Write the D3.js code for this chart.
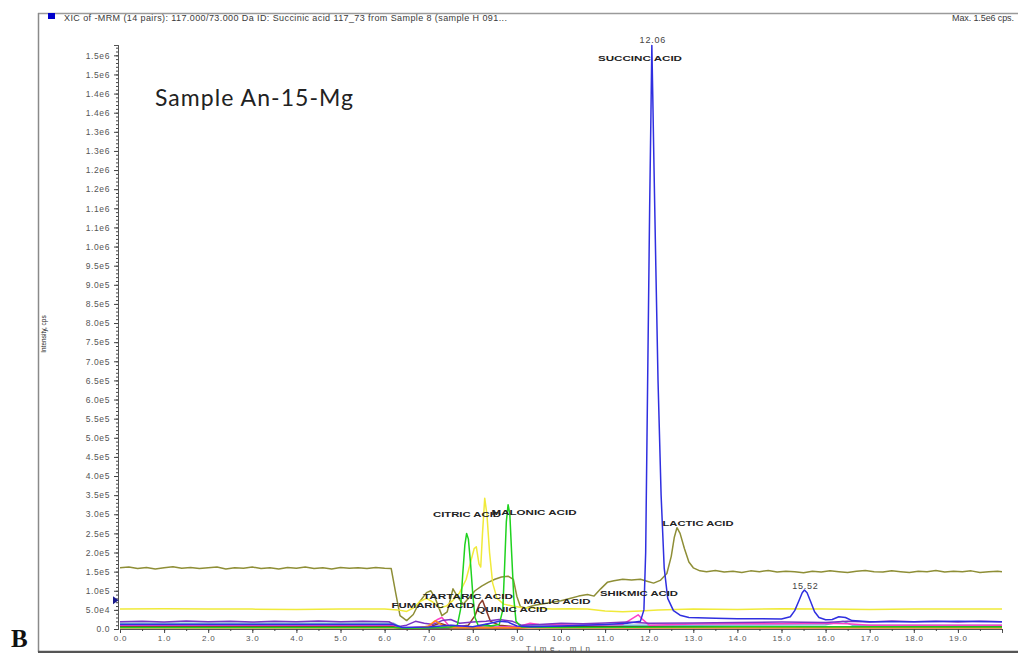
<!DOCTYPE html>
<html>
<head>
<meta charset="utf-8">
<script src="https://cdn.jsdelivr.net/npm/d3@7"></script>
<style>
  body { margin: 0; background: #fff; }
  svg { display: block; }
  text { font-family: "Liberation Sans", Arial, sans-serif; }
</style>
</head>
<body>
<div id="chart"></div>
<script>
// XIC chromatogram, intensity in units of 1e5 cps, time in min

const yTickValues = d3.range(0, 31).map(i => i * 0.5);
const yTickLabels = ["0.0", "5.0e4", "1.0e5", "1.5e5", "2.0e5", "2.5e5", "3.0e5", "3.5e5", "4.0e5", "4.5e5",
  "5.0e5", "5.5e5", "6.0e5", "6.5e5", "7.0e5", "7.5e5", "8.0e5", "8.5e5", "9.0e5", "9.5e5",
  "1.0e6", "1.1e6", "1.1e6", "1.2e6", "1.2e6", "1.3e6", "1.3e6", "1.4e6", "1.4e6", "1.5e6", "1.5e6"];
const xTickValues = d3.range(0, 20);
const xTickLabels = xTickValues.map(v => v.toFixed(1));

// olive trace (lactic acid)
const olive = [
  [0.0, 1.60], [0.2, 1.62], [0.4, 1.58], [0.6, 1.61], [0.8, 1.57], [1.0, 1.60], [1.2, 1.63], [1.4, 1.59],
  [1.6, 1.61], [1.8, 1.58], [2.0, 1.60], [2.2, 1.62], [2.4, 1.57], [2.6, 1.60], [2.8, 1.59], [3.0, 1.62],
  [3.2, 1.58], [3.4, 1.60], [3.6, 1.57], [3.8, 1.61], [4.0, 1.59], [4.2, 1.62], [4.4, 1.58], [4.6, 1.60],
  [4.8, 1.57], [5.0, 1.61], [5.2, 1.59], [5.4, 1.60], [5.6, 1.58], [5.8, 1.61], [6.0, 1.59], [6.15, 1.58],
  [6.25, 0.95], [6.35, 0.35], [6.5, 0.22], [6.65, 0.38], [6.8, 0.72], [6.95, 0.95], [7.05, 1.0], [7.15, 0.8],
  [7.3, 0.35], [7.42, 0.45], [7.55, 1.05], [7.65, 0.85], [7.78, 0.65], [7.9, 0.8], [8.05, 1.0], [8.2, 1.12],
  [8.35, 1.22], [8.5, 1.3], [8.65, 1.36], [8.8, 1.38], [8.92, 1.3], [9.0, 0.85], [9.08, 0.58], [9.2, 0.55],
  [9.4, 0.62], [9.6, 0.66], [9.8, 0.7], [10.0, 0.74], [10.2, 0.8], [10.4, 0.86], [10.6, 0.9], [10.75, 0.86],
  [10.9, 1.05], [11.05, 1.22], [11.2, 1.26], [11.4, 1.3], [11.6, 1.28], [11.8, 1.3], [11.95, 1.25], [12.1, 1.2],
  [12.25, 1.27], [12.4, 1.45], [12.5, 1.9], [12.57, 2.4], [12.63, 2.65], [12.7, 2.5], [12.8, 2.1], [12.9, 1.75],
  [13.0, 1.6], [13.15, 1.52], [13.3, 1.5], [13.5, 1.53], [13.7, 1.49], [13.9, 1.51], [14.1, 1.48], [14.3, 1.52],
  [14.5, 1.5], [14.7, 1.53], [14.9, 1.49], [15.1, 1.51], [15.3, 1.5], [15.5, 1.47], [15.7, 1.51], [15.9, 1.49],
  [16.1, 1.52], [16.3, 1.5], [16.5, 1.48], [16.7, 1.51], [16.9, 1.53], [17.1, 1.5], [17.3, 1.49], [17.5, 1.52],
  [17.7, 1.5], [17.9, 1.48], [18.1, 1.51], [18.3, 1.5], [18.5, 1.53], [18.7, 1.49], [18.9, 1.51], [19.1, 1.5],
  [19.3, 1.52], [19.5, 1.48], [19.7, 1.5], [19.9, 1.51], [20.0, 1.5]
];

// yellow trace
const yellow = [
  [0, 0.52], [1, 0.53], [2, 0.52], [3, 0.52], [4, 0.51], [5, 0.52], [6, 0.52], [6.3, 0.5], [6.5, 0.46],
  [6.65, 0.55], [6.8, 0.72], [6.95, 0.8], [7.1, 0.7], [7.25, 0.55], [7.4, 0.6], [7.55, 0.75], [7.7, 0.95],
  [7.85, 1.3], [7.95, 1.75], [8.03, 2.1], [8.08, 2.15], [8.14, 1.7], [8.18, 1.62], [8.22, 2.5], [8.27, 3.42],
  [8.32, 3.0], [8.38, 2.0], [8.45, 1.2], [8.55, 0.8], [8.7, 0.65], [8.9, 0.6], [9.1, 0.56], [9.4, 0.55],
  [9.8, 0.52], [10.2, 0.53], [10.6, 0.52], [11.0, 0.47], [11.4, 0.45], [11.8, 0.47], [12.2, 0.5], [13, 0.52],
  [14, 0.51], [15, 0.53], [16, 0.52], [17, 0.51], [18, 0.52], [19, 0.52], [20, 0.52]
];

// green trace (citric / malonic)
const green = [
  [0, 0.04], [6.2, 0.04], [6.5, 0.02], [7.0, 0.03], [7.5, 0.05], [7.65, 0.1], [7.72, 0.5], [7.77, 1.4],
  [7.82, 2.2], [7.86, 2.5], [7.9, 2.35], [7.95, 1.7], [8.0, 0.9], [8.05, 0.3], [8.12, 0.1], [8.4, 0.08],
  [8.6, 0.12], [8.68, 0.5], [8.72, 1.6], [8.76, 2.8], [8.8, 3.25], [8.84, 3.0], [8.88, 2.0], [8.93, 0.8],
  [8.98, 0.2], [9.1, 0.05], [10, 0.04], [13, 0.05], [14, 0.06], [20, 0.05]
];

// blue trace (succinic acid)
const blue = [
  [0, 0.12], [6.2, 0.12], [6.4, 0.04], [7.0, 0.05], [7.5, 0.1], [8.0, 0.06], [8.4, 0.15], [8.6, 0.2],
  [8.8, 0.18], [9.0, 0.08], [9.3, 0.06], [10, 0.08], [11, 0.12], [11.5, 0.15], [11.8, 0.2], [11.88, 0.5],
  [11.92, 2.0], [11.95, 5.0], [11.98, 8.0], [12.01, 11.0], [12.04, 13.5], [12.06, 15.26], [12.08, 14.0],
  [12.11, 12.0], [12.15, 9.5], [12.2, 6.5], [12.27, 3.5], [12.34, 1.6], [12.42, 0.8], [12.55, 0.48],
  [12.7, 0.36], [12.9, 0.3], [13.5, 0.28], [14, 0.27], [14.5, 0.27], [15.0, 0.26], [15.2, 0.32], [15.3, 0.48],
  [15.4, 0.75], [15.47, 0.95], [15.52, 1.02], [15.58, 0.95], [15.66, 0.72], [15.75, 0.45], [15.85, 0.3],
  [16.0, 0.24], [16.15, 0.25], [16.3, 0.32], [16.45, 0.3], [16.6, 0.22], [17, 0.19], [18, 0.19], [19, 0.2], [20, 0.19]
];

// purple trace
const purple = [
  [0, 0.19], [0.5, 0.2], [1, 0.18], [1.5, 0.21], [2, 0.19], [2.5, 0.2], [3, 0.18], [3.5, 0.2], [4, 0.19],
  [4.5, 0.21], [5, 0.19], [5.5, 0.2], [6.1, 0.19], [6.3, 0.06], [6.5, 0.1], [6.7, 0.2], [6.9, 0.15],
  [7.1, 0.12], [7.3, 0.22], [7.5, 0.25], [7.7, 0.15], [8.0, 0.18], [8.3, 0.2], [8.6, 0.25], [8.9, 0.2],
  [9.1, 0.1], [9.5, 0.12], [10.0, 0.15], [10.5, 0.14], [11.0, 0.16], [11.5, 0.18], [12.0, 0.15], [13, 0.16],
  [14, 0.17], [15, 0.18], [16, 0.17], [16.5, 0.2], [17, 0.18], [17.5, 0.21], [18, 0.19], [18.5, 0.2],
  [19, 0.18], [19.5, 0.2], [20, 0.19]
];

// magenta trace
const magenta = [
  [0, 0.1], [6.2, 0.1], [6.4, 0.03], [7.0, 0.05], [7.2, 0.25], [7.3, 0.3], [7.45, 0.1], [8.0, 0.05],
  [9.0, 0.05], [9.3, 0.15], [9.5, 0.12], [10.5, 0.1], [11.4, 0.12], [11.65, 0.3], [11.75, 0.37], [11.85, 0.25],
  [12.0, 0.1], [13, 0.13], [14, 0.14], [15, 0.14], [16, 0.15], [16.5, 0.14], [17, 0.1], [20, 0.1]
];

// light blue trace
const lightBlue = [
  [0, 0.15], [6.2, 0.15], [6.4, 0.03], [9.0, 0.04], [9.3, 0.1], [13, 0.1], [16, 0.11], [16.4, 0.2],
  [16.6, 0.1], [20, 0.1]
];

// maroon trace (quinic / tartaric)
const maroon = [
  [0, 0.06], [6.2, 0.06], [6.4, 0.02], [7.0, 0.05], [7.25, 0.15], [7.4, 0.1], [7.6, 0.05], [7.9, 0.1],
  [8.05, 0.35], [8.15, 0.65], [8.22, 0.75], [8.3, 0.5], [8.4, 0.2], [8.6, 0.1], [9.0, 0.05], [9.5, 0.04], [20, 0.04]
];

// orange trace
const orange = [
  [0, 0.03], [6.8, 0.03], [7.0, 0.08], [7.15, 0.22], [7.3, 0.1], [7.5, 0.03], [20, 0.03]
];

// red trace
const red = [
  [0, 0.04], [6.2, 0.04], [6.4, 0.01], [9.0, 0.02], [9.3, 0.04], [20, 0.04]
];

// dark trace
const dark = [
  [0, 0.07], [6.2, 0.07], [6.4, 0.02], [8.1, 0.04], [8.3, 0.12], [8.5, 0.04], [9.2, 0.06], [20, 0.06]
];

const traces = [
  { data: red, color: '#cc2a2a' },
  { data: dark, color: '#333333' },
  { data: maroon, color: '#8b3a2a' },
  { data: lightBlue, color: '#6fb4cf' },
  { data: magenta, color: '#ff3fc8' },
  { data: purple, color: '#7a34c4' },
  { data: orange, color: '#ff8c1a' },
  { data: olive, color: '#8e8e36' },
  { data: yellow, color: '#f0ea3a' },
  { data: green, color: '#1fd21f' },
  { data: blue, color: '#2f2fe0' }
];

// peak labels: [text, centre x, y, width]
const peakLabels = [
  ["SUCCINC ACID", 640, 58, 84],
  ["CITRIC ACID", 467, 514, 68],
  ["MALONIC ACID", 534, 512, 85],
  ["TARTARIC ACID", 468, 596, 90],
  ["FUMARIC ACID", 433, 605, 83],
  ["QUINIC ACID", 512, 609, 71],
  ["MALIC ACID", 557, 601, 67],
  ["SHIKMIC ACID", 639, 593, 78],
  ["LACTIC ACID", 698, 523, 71]
];
const rtLabels = [[12.06, "12.06"], [15.52, "15.52"]];

const W = 1018, H = 653;
const svg = d3.select('#chart').append('svg').attr('width', W).attr('height', H);

const x = d3.scaleLinear().domain([0, 20]).range([120, 1002]);
const y = d3.scaleLinear().domain([0, 15.27]).range([629, 45]);

// frame
svg.append('line').attr('x1', 38).attr('x2', W).attr('y1', 13.5).attr('y2', 13.5)
  .style('stroke', '#9a9a9a').style('stroke-width', 1.5);
svg.append('line').attr('x1', 38.5).attr('x2', 38.5).attr('y1', 13).attr('y2', 652)
  .style('stroke', '#8a8a8a').style('stroke-width', 1.5);

// header
svg.append('rect').attr('x', 48).attr('y', 13).attr('width', 7).attr('height', 6).style('fill', '#0000cc');
svg.append('text').attr('x', 64).attr('y', 20.5).attr('textLength', 443).attr('lengthAdjust', 'spacing')
  .style('font-size', '9px').style('fill', '#3a3a3a')
  .text('XIC of -MRM (14 pairs): 117.000/73.000 Da ID: Succinic acid 117_73 from Sample 8 (sample H 091...');
svg.append('text').attr('x', 952).attr('y', 20.5).attr('textLength', 62).attr('lengthAdjust', 'spacing')
  .style('font-size', '9px').style('fill', '#3a3a3a').text('Max. 1.5e6 cps.');

// axes
const yAxis = d3.axisLeft(y).tickValues(yTickValues).tickSize(4).tickPadding(4)
  .tickFormat((d, i) => yTickLabels[i]);
const yMinor = d3.axisLeft(y).tickValues(d3.range(0, 153).map(i => i * 0.1)).tickSize(2).tickFormat('');
const xAxis = d3.axisBottom(x).tickValues(xTickValues).tickSize(4).tickPadding(2)
  .tickFormat((d, i) => xTickLabels[i]);
const xMinor = d3.axisBottom(x).tickValues(d3.range(0, 40).map(i => i * 0.5 + 0.5)).tickSize(2).tickFormat('');

const gy = svg.append('g').attr('transform', 'translate(118,0)').call(yAxis);
svg.append('g').attr('transform', 'translate(118,0)').call(yMinor);
const gx = svg.append('g').attr('transform', 'translate(0,629)').call(xAxis);
svg.append('g').attr('transform', 'translate(0,629)').call(xMinor);
svg.selectAll('.domain').style('stroke', '#555');
svg.selectAll('.tick line').style('stroke', '#444');
gy.selectAll('text').style('font-size', '8.5px').style('fill', '#555').style('letter-spacing', '0.6px')
  .style('font-family', '"Liberation Sans", Arial, sans-serif');
gx.selectAll('text').style('font-size', '8px').style('fill', '#555').style('letter-spacing', '0.8px')
  .style('font-family', '"Liberation Sans", Arial, sans-serif');

// axis titles
svg.append('text').attr('transform', 'translate(46,334) rotate(-90)').attr('text-anchor', 'middle')
  .style('font-size', '6.5px').style('fill', '#222').text('Intensity, cps');
svg.append('text').attr('x', 558).attr('y', 650.5).attr('text-anchor', 'middle')
  .attr('textLength', 64).attr('lengthAdjust', 'spacing')
  .style('font-size', '8px').style('fill', '#555').text('Time, min');

// traces
const line = d3.line().x(d => x(d[0])).y(d => y(d[1]));
const plot = svg.append('g');
plot.selectAll('.trace')
  .data(traces)
  .enter()
  .append('path')
  .attr('class', 'trace')
  .attr('d', d => line(d.data))
  .style('fill', 'none')
  .style('stroke', d => d.color)
  .style('stroke-width', 1.5)
  .style('stroke-linejoin', 'round');

// baseline marker
svg.append('path')
  .attr('d', `M${113},${y(0.75) - 4} L${118.5},${y(0.75)} L${113},${y(0.75) + 4} Z`)
  .style('fill', '#1a1a8c');

// labels
svg.selectAll('.peak-label')
  .data(peakLabels)
  .enter()
  .append('text')
  .attr('class', 'peak-label')
  .attr('x', d => d[1])
  .attr('y', d => d[2] + 3)
  .attr('text-anchor', 'middle')
  .attr('textLength', d => d[3])
  .attr('lengthAdjust', 'spacingAndGlyphs')
  .style('font-size', '8px')
  .style('font-weight', 'bold')
  .style('fill', '#222')
  .text(d => d[0]);

svg.selectAll('.rt-label')
  .data(rtLabels)
  .enter()
  .append('text')
  .attr('class', 'rt-label')
  .attr('x', d => x(d[0]) + 1)
  .attr('y', (d, i) => i === 0 ? 43 : 589)
  .attr('text-anchor', 'middle')
  .style('font-size', '9px')
  .style('letter-spacing', '0.8px')
  .style('fill', '#444')
  .text(d => d[1]);

svg.append('text').attr('x', 155).attr('y', 106).attr('textLength', 198).attr('lengthAdjust', 'spacing')
  .style('font-family', 'Lato, "Open Sans", sans-serif').style('font-size', '23px').style('fill', '#222')
  .text('Sample An-15-Mg');

// bottom border
svg.append('line').attr('x1', 38).attr('x2', W).attr('y1', 651.8).attr('y2', 651.8)
  .style('stroke', '#555').style('stroke-width', 2.2);

svg.append('text').attr('x', 11).attr('y', 647)
  .style('font-family', '"Liberation Serif", "DejaVu Serif", serif').style('font-weight', 'bold')
  .style('font-size', '25px').style('fill', '#111').text('B');
</script>
</body>
</html>
